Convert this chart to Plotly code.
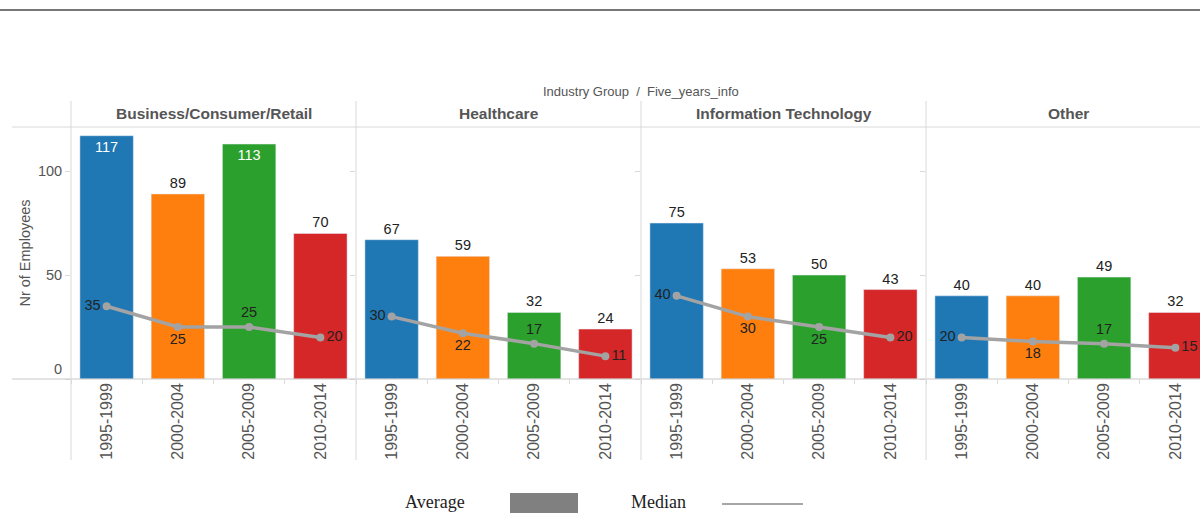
import plotly.graph_objects as go
from plotly.subplots import make_subplots

# data
groups = ["Business/Consumer/Retail", "Healthcare", "Information Technology", "Other"]
periods = ["1995-1999", "2000-2004", "2005-2009", "2010-2014"]

bcr_avg = [117, 89, 113, 70]
hc_avg = [67, 59, 32, 24]
it_avg = [75, 53, 50, 43]
other_avg = [40, 40, 49, 32]

bcr_median = [35, 25, 25, 20]
hc_median = [30, 22, 17, 11]
it_median = [40, 30, 25, 20]
other_median = [20, 18, 17, 15]

y_ticks = [0, 50, 100]

averages = [bcr_avg, hc_avg, it_avg, other_avg]
medians = [bcr_median, hc_median, it_median, other_median]

bar_colors = ["#1f77b4", "#ff7f0e", "#2ca02c", "#d62728"]
median_pos = {
    "Business/Consumer/Retail": ["middle left", "bottom center", "top center", "middle right"],
    "Healthcare": ["middle left", "bottom center", "top center", "middle right"],
    "Information Technology": ["middle left", "bottom center", "bottom center", "middle right"],
    "Other": ["middle left", "bottom center", "top center", "middle right"],
}

W, H = 1200, 513
L, T, B = 71, 127, 379     # plot area in pixels
PW = W - L
PH = B - T


# helpers take screen pixels (as measured on the reference)
def px_x(x):
    return (x - L) / PW


def px_y(y):
    return (B - y) / PH


GREY = "#555555"
LINE = "#d9d9d9"

fig = make_subplots(rows=1, cols=4, shared_yaxes=True, horizontal_spacing=0)

for i, g in enumerate(groups):
    vals = averages[i]
    pos = ["inside" if v > 110 else "outside" for v in vals]
    tcol = ["white" if p == "inside" else "#222222" for p in pos]
    fig.add_trace(go.Bar(
        x=periods, y=vals, marker_color=bar_colors, width=0.75,
        text=[str(v) for v in vals], textposition=pos, insidetextanchor="end",
        textangle=0, constraintext="none", cliponaxis=False,
        textfont=dict(size=14.5, color=tcol, family="Liberation Sans"),
        showlegend=False, hoverinfo="skip"
    ), row=1, col=i + 1)
    fig.add_trace(go.Scatter(
        x=periods, y=medians[i], mode="lines+markers+text",
        line=dict(color="#a3a3a3", width=3.5),
        marker=dict(color="#a3a3a3", size=8),
        text=[str(v) for v in medians[i]], textposition=median_pos[g],
        textfont=dict(size=14.5, color="#222222", family="Liberation Sans"),
        cliponaxis=False, showlegend=False, hoverinfo="skip"
    ), row=1, col=i + 1)

# panel domains (285px each, last one cut by the window edge)
edges = [71, 356, 641, 926, 1200]
for i in range(4):
    name = "xaxis" if i == 0 else f"xaxis{i + 1}"
    span_px = edges[i + 1] - edges[i]
    fig.layout[name].update(
        domain=[max(0, px_x(edges[i])), min(1, px_x(edges[i + 1]))],
        range=[-0.5, -0.5 + 4 * span_px / 285],
        tickangle=-90, tickfont=dict(size=16, color=GREY, family="Liberation Sans"),
        showline=False, showgrid=False, zeroline=False,
        ticks="outside", tickson="boundaries", ticklen=4, tickcolor=LINE,
        fixedrange=True, automargin=False,
    )

# the "0" label sits a bit above its tick in the original, so it is drawn separately
fig.update_yaxes(
    range=[0, 121.2], tickvals=y_ticks, ticktext=["" if v == 0 else str(v) for v in y_ticks],
    showgrid=False, zeroline=False, fixedrange=True,
    ticks="outside", ticklen=5, tickcolor=LINE, showline=False, automargin=False,
    tickfont=dict(size=14.5, color=GREY, family="Liberation Sans"),
)
fig.update_yaxes(title_text="Nr of Employees", title_font=dict(size=14.5, color=GREY), title_standoff=3,
                 row=1, col=1)

shapes = []
# top rule
shapes.append(dict(type="line", xref="paper", yref="paper", x0=px_x(0), x1=px_x(1200),
                   y0=px_y(10), y1=px_y(10), line=dict(color="#777777", width=2)))
# header bottom and zero line
shapes.append(dict(type="line", xref="paper", yref="paper", x0=px_x(12), x1=px_x(1200),
                   y0=px_y(127), y1=px_y(127), line=dict(color=LINE, width=1)))
shapes.append(dict(type="line", xref="paper", yref="paper", x0=px_x(12), x1=px_x(1200),
                   y0=px_y(379), y1=px_y(379), line=dict(color="#c8c8c8", width=1)))
# panel separators
for e in edges[:4]:
    shapes.append(dict(type="line", xref="paper", yref="paper", x0=px_x(e), x1=px_x(e),
                       y0=px_y(101), y1=px_y(460), line=dict(color=LINE, width=1)))
# legend swatch and line
shapes.append(dict(type="rect", xref="paper", yref="paper", x0=px_x(510), x1=px_x(578),
                   y0=px_y(513), y1=px_y(493), fillcolor="#808080", line=dict(width=0)))
shapes.append(dict(type="line", xref="paper", yref="paper", x0=px_x(722), x1=px_x(803),
                   y0=px_y(504), y1=px_y(504), line=dict(color="#8a8a8a", width=1.5)))

annotations = []
for i, g in enumerate(groups):
    cx = (edges[i] + edges[i] + 285) / 2
    annotations.append(dict(text=f"<b>{g}</b>", x=px_x(cx), y=px_y(113), xref="paper", yref="paper",
                            xanchor="center", yanchor="middle", showarrow=False,
                            font=dict(size=15.5, color=GREY, family="Liberation Sans")))
annotations.append(dict(text="Industry Group  /  Five_years_info", x=px_x(641), y=px_y(91),
                        xref="paper", yref="paper", xanchor="center", yanchor="middle", showarrow=False,
                        font=dict(size=13, color=GREY, family="Liberation Sans")))
annotations.append(dict(text=str(y_ticks[0]), x=px_x(64), y=px_y(369), xref="paper", yref="paper",
                        xanchor="right", yanchor="middle", showarrow=False,
                        font=dict(size=14.5, color=GREY, family="Liberation Sans")))
annotations.append(dict(text="Average", x=px_x(435), y=px_y(502), xref="paper", yref="paper",
                        xanchor="center", yanchor="middle", showarrow=False,
                        font=dict(size=18, color="#222222", family="Liberation Serif")))
annotations.append(dict(text="Median", x=px_x(658), y=px_y(502), xref="paper", yref="paper",
                        xanchor="center", yanchor="middle", showarrow=False,
                        font=dict(size=18, color="#222222", family="Liberation Serif")))

fig.update_layout(
    width=W, height=H, autosize=False,
    margin=dict(l=L, r=0, t=T, b=H - B),
    paper_bgcolor="white", plot_bgcolor="white",
    font=dict(family="Liberation Sans", color=GREY),
    bargap=0.25, shapes=shapes, annotations=annotations,
)

# drop the default body margin so the 1200x513 figure fills the window exactly
fig.write_html("out.html", config={"displayModeBar": False},
               post_script="document.body.style.margin = '0';")
